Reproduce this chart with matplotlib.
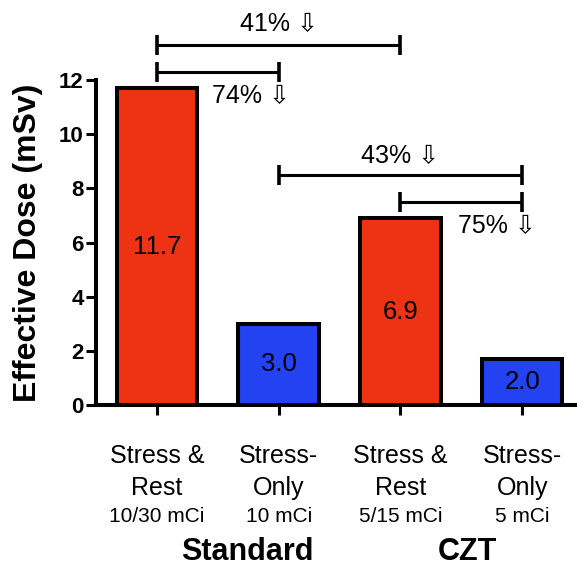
import matplotlib
matplotlib.use("Agg")
import matplotlib.pyplot as plt

plt.rcParams['font.family'] = ['Liberation Sans', 'DejaVu Sans']

# data
scan_type = ["Stress &", "Stress-", "Stress &", "Stress-"]
scan_sub = ["Rest", "Only", "Rest", "Only"]
activity = ["10/30 mCi", "10 mCi", "5/15 mCi", "5 mCi"]
groups = ["Standard", "CZT"]
group_x = [0.74, 2.55]
dose = [11.7, 3.0, 6.9, 1.7]
dose_labels = ["11.7", "3.0", "6.9", "2.0"]
bar_colors = ["#ee3314", "#2343f2", "#ee3314", "#2343f2"]
comparisons = [(0, 2, "41%"), (0, 1, "74%"), (1, 3, "43%"), (2, 3, "75%")]

LW = 2.9


def main():
    fig = plt.figure(figsize=(5.77, 5.67), dpi=100)
    ax = fig.add_axes([0.1664, 0.2857, 0.8336, 0.5732])

    x = list(range(len(dose)))
    ax.bar(x, dose, width=0.66, color=bar_colors, edgecolor="black",
           linewidth=LW, zorder=3)

    for xi, v, lab in zip(x, dose, dose_labels):
        ax.text(xi, v / 2, lab, ha="center", va="center", fontsize=18.5)

    ax.set_xlim(-0.5, 3.45)
    ax.set_ylim(0, 12)
    ax.set_yticks(range(0, 13, 2))
    ax.set_yticklabels([str(t) for t in range(0, 13, 2)],
                       fontsize=16, fontweight="bold")
    ax.set_xticks(x)
    ax.set_xticklabels([""] * len(x))
    ax.tick_params(axis="both", length=7, width=2.2, direction="out")
    ax.tick_params(axis="y", pad=2)

    for s in ["top", "right"]:
        ax.spines[s].set_visible(False)
    for s in ["left", "bottom"]:
        ax.spines[s].set_linewidth(LW)

    ax.set_ylabel("Effective Dose (mSv)", fontsize=23, fontweight="bold",
                  labelpad=11)

    # category labels under the axis
    for xi in x:
        ax.annotate(scan_type[xi], xy=(xi, 0), xycoords=("data", "axes fraction"),
                    xytext=(0, -37), textcoords="offset points",
                    ha="center", va="center", fontsize=18)
        ax.annotate(scan_sub[xi], xy=(xi, 0), xycoords=("data", "axes fraction"),
                    xytext=(0, -60), textcoords="offset points",
                    ha="center", va="center", fontsize=18)
        ax.annotate(activity[xi], xy=(xi, 0), xycoords=("data", "axes fraction"),
                    xytext=(0, -80), textcoords="offset points",
                    ha="center", va="center", fontsize=15)
    for gx, g in zip(group_x, groups):
        ax.annotate(g, xy=(gx, 0), xycoords=("data", "axes fraction"),
                    xytext=(0, -106), textcoords="offset points",
                    ha="center", va="center", fontsize=22, fontweight="bold")

    # comparison brackets
    bracket_y = [13.3, 12.3, 8.5, 7.5]
    text_pos = [(1.0, 14.05), (0.77, 11.4), (2.0, 9.2), (2.79, 6.6)]
    cap = 0.38
    for (a, b, lab), by, (tx, ty) in zip(comparisons, bracket_y, text_pos):
        ax.plot([a, b], [by, by], color="black", lw=2.2, clip_on=False,
                solid_capstyle="butt")
        for e in (a, b):
            ax.plot([e, e], [by - cap, by + cap], color="black", lw=2.6,
                    clip_on=False, solid_capstyle="butt")
        ax.text(tx, ty, lab + " \u21e9", ha="center", va="center",
                fontsize=18, clip_on=False)

    fig.savefig("out.png", dpi=100)
    plt.close(fig)


if __name__ == "__main__":
    main()
